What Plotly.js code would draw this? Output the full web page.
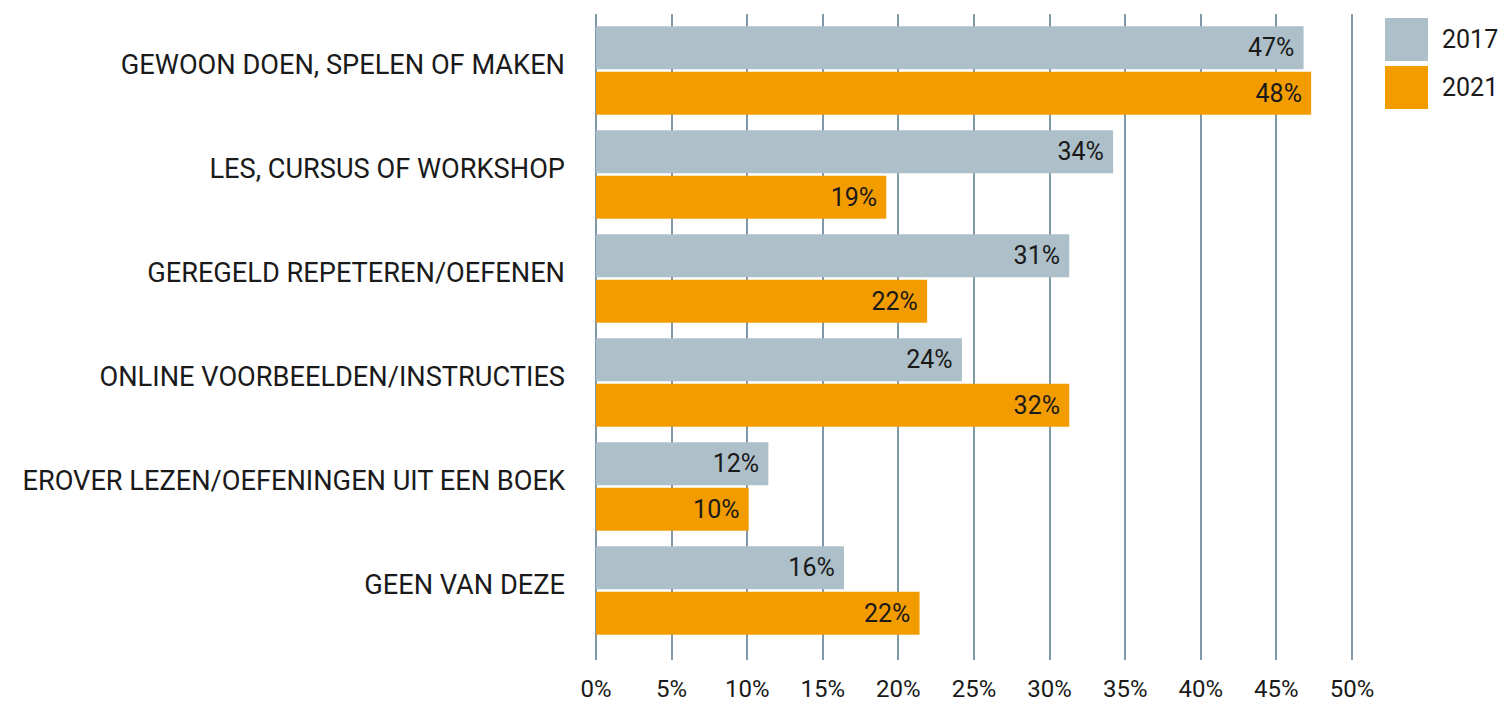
<!DOCTYPE html>
<html><head><meta charset="utf-8">
<script src="https://cdn.plot.ly/plotly-3.0.1.min.js"></script>
<style>body{margin:0;background:#fff}#c{width:1500px;height:705px}</style>
</head><body><div id="c"></div>
<script>
const categories = ["GEWOON DOEN, SPELEN OF MAKEN","LES, CURSUS OF WORKSHOP","GEREGELD REPETEREN/OEFENEN","ONLINE VOORBEELDEN/INSTRUCTIES","EROVER LEZEN/OEFENINGEN UIT EEN BOEK","GEEN VAN DEZE"];
const values2017 = [46.8, 34.2, 31.3, 24.2, 11.4, 16.4];
const values2021 = [47.3, 19.2, 21.9, 31.3, 10.1, 21.4];
const labels2017 = ["47%","34%","31%","24%","12%","16%"];
const labels2021 = ["48%","19%","22%","32%","10%","22%"];
const seriesNames = ["2017","2021"];
const seriesColors = ["#adbfc8","#f39c00"];
const xTickVals = [0,5,10,15,20,25,30,35,40,45,50];
const xTickText = ["0%","5%","10%","15%","20%","25%","30%","35%","40%","45%","50%"];

const FONT = "Roboto, 'DejaVu Sans', sans-serif";
const pad = s => s + "\u00a0";
const common = {type:'bar', orientation:'h', y:categories, textposition:'inside', insidetextanchor:'end',
  textfont:{family:FONT,size:25,color:'#1a1a1a'}, hoverinfo:'skip', showlegend:false, cliponaxis:false};
const data = [
  Object.assign({}, common, {x:values2017, text:labels2017.map(pad), name:seriesNames[0], marker:{color:seriesColors[0]}}),
  Object.assign({}, common, {x:values2021, text:labels2021.map(pad), name:seriesNames[1], marker:{color:seriesColors[1]}})
];
const W=1500, L=596, R=145, T=14, B=45;
const pw = W-L-R, ph = 705-T-B;
const px = v => (v-L)/pw, py = v => (705-B-v)/ph;
const shapes = [], annotations = [];
seriesNames.forEach((n,i)=>{
  const y0 = 18+i*48, y1 = y0+43;
  shapes.push({type:'rect', xref:'paper', yref:'paper', x0:px(1385), x1:px(1428), y0:py(y1), y1:py(y0), fillcolor:seriesColors[i], line:{width:0}});
  annotations.push({xref:'paper', yref:'paper', x:px(1440), y:py((y0+y1)/2), xanchor:'left', yanchor:'middle', text:n, showarrow:false, font:{family:FONT,size:25,color:'#1a1a1a'}});
});
const layout = {
  width:1500, height:705, margin:{l:L,r:R,t:T,b:B},
  paper_bgcolor:'#fff', plot_bgcolor:'#fff',
  barmode:'group', bargap:0.125, bargroupgap:0.055,
  font:{family:FONT,size:24,color:'#1a1a1a'},
  xaxis:{range:[0,50.2], tickvals:xTickVals, ticktext:xTickText, showgrid:true, gridcolor:'#7f99a8', gridwidth:2,
    zeroline:true, zerolinecolor:'#7f99a8', zerolinewidth:2, showline:false, ticks:'', ticklabelstandoff:12,
    tickfont:{family:FONT,size:24,color:'#1a1a1a'}, fixedrange:true},
  yaxis:{range:[5.668,-0.543], showgrid:false, zeroline:false, ticks:'', ticklabelstandoff:30, ticklabelshift:6,
    tickfont:{family:FONT,size:27.2,color:'#1a1a1a'}, fixedrange:true},
  shapes, annotations, showlegend:false
};
Plotly.newPlot('c', data, layout, {displayModeBar:false, staticPlot:true});
</script></body></html>
